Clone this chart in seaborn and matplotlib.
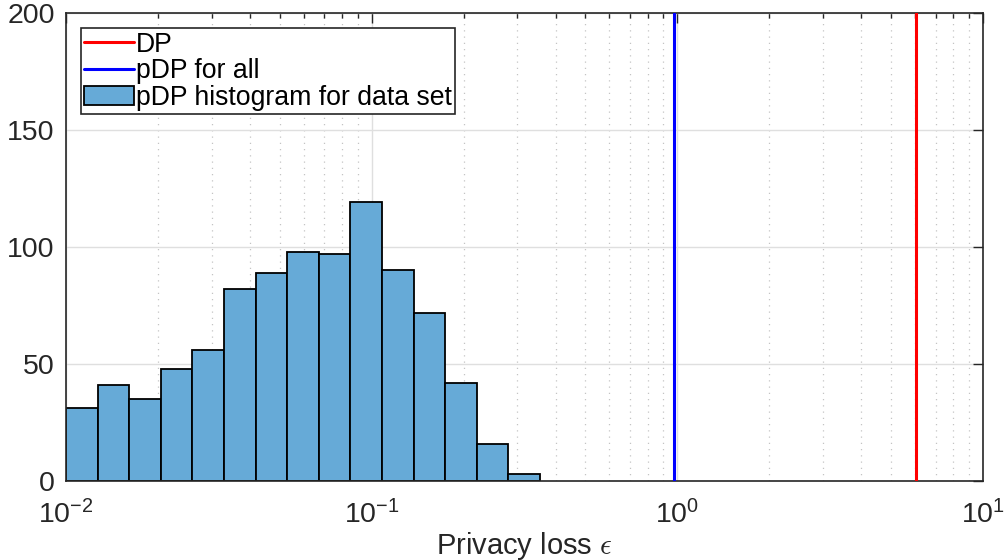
import numpy as np
import matplotlib
matplotlib.use("Agg")
import matplotlib.pyplot as plt
import seaborn as sns
from matplotlib.lines import Line2D
from matplotlib.patches import Patch
from matplotlib.ticker import LogLocator, FixedLocator, FixedFormatter, NullFormatter

# ---- data ----
counts = [31, 41, 35, 48, 56, 82, 89, 98, 97, 119, 90, 72, 42, 16, 3]
log_start = -2.0          # first bin edge: 10^-2
log_binwidth = 0.1034     # bin width in decades
dp_eps = 6.02             # DP privacy loss
pdp_all_eps = 0.975       # pDP for all
yticks = [0, 50, 100, 150, 200]
xticks = [0.01, 0.1, 1, 10]
xticklabels = ["$\\mathregular{10^{-2}}$", "$\\mathregular{10^{-1}}$",
               "$\\mathregular{10^{0}}$", "$\\mathregular{10^{1}}$"]
legend_labels = ["DP", "pDP for all", "pDP histogram for data set"]
xlabel = "Privacy loss $\\epsilon$"

n = len(counts)
log_edges = log_start + log_binwidth * np.arange(n + 1)
centers = 10 ** ((log_edges[:-1] + log_edges[1:]) / 2)

sns.set_theme(style="white")
plt.rcParams["font.family"] = ["Liberation Sans", "DejaVu Sans"]
plt.rcParams["mathtext.fontset"] = "custom"
plt.rcParams["mathtext.rm"] = "Liberation Sans"
plt.rcParams["mathtext.it"] = "Liberation Sans:italic"
plt.rcParams["mathtext.bf"] = "Liberation Sans:bold"

fig = plt.figure(figsize=(10.07, 5.6), dpi=100)
ax = fig.add_axes([0.0655, 0.141, 0.9106, 0.836])

bar_color = "#66AAD7"
sns.histplot(x=centers, weights=counts, bins=n,
             binrange=(log_edges[0], log_edges[-1]), log_scale=True,
             color=bar_color, alpha=1.0, edgecolor="black", linewidth=1.3,
             ax=ax, zorder=2)

ax.axvline(pdp_all_eps, color="#0000FF", lw=2.2, zorder=3)
ax.axvline(dp_eps, color="#FF0000", lw=2.2, zorder=3)

ax.set_xlim(1e-2, 1e1)
ax.set_ylim(0, 200)
ax.set_yticks(yticks)
ax.xaxis.set_major_locator(FixedLocator(xticks))
ax.xaxis.set_major_formatter(FixedFormatter(xticklabels))
ax.xaxis.set_minor_locator(LogLocator(base=10, subs=np.arange(2, 10), numticks=20))
ax.xaxis.set_minor_formatter(NullFormatter())

ax.grid(True, which="major", axis="both", color="#DFDFDF", lw=1.0, zorder=0)
ax.grid(True, which="minor", axis="x", color="#C4C4C4", lw=0.9,
        linestyle=(0, (1, 4)), zorder=0)
ax.set_axisbelow(True)

for s in ax.spines.values():
    s.set_color("#262626")
    s.set_linewidth(1.2)
    s.set_visible(True)

ax.tick_params(which="both", direction="in", top=True, right=True,
               color="#262626", width=1.0)
ax.tick_params(which="major", length=7, labelsize=20.5, labelcolor="#262626")
ax.tick_params(axis="y", which="major", pad=8)
ax.tick_params(axis="x", which="major", pad=14)
ax.tick_params(which="minor", length=3.6)
ax.tick_params(axis="y", which="minor", left=False, right=False)

ax.set_xlabel(xlabel, fontsize=21, color="#262626", labelpad=0,
              math_fontfamily="cm")
ax.set_ylabel("")

handles = [Line2D([0], [0], color="#FF0000", lw=2.2),
           Line2D([0], [0], color="#0000FF", lw=2.2),
           Patch(facecolor=bar_color, edgecolor="black", lw=1.3)]
leg = ax.legend(handles, legend_labels, loc="upper left",
                bbox_to_anchor=(0.0165, 0.967), fontsize=19.2, frameon=True,
                fancybox=False, shadow=False, borderpad=0.12,
                labelspacing=0.02, handlelength=1.85, handletextpad=0.1,
                borderaxespad=0.0, framealpha=1.0)
leg.get_frame().set_edgecolor("#262626")
leg.get_frame().set_linewidth(1.2)
for t in leg.get_texts():
    t.set_color("black")

fig.savefig("out.png", dpi=100)
